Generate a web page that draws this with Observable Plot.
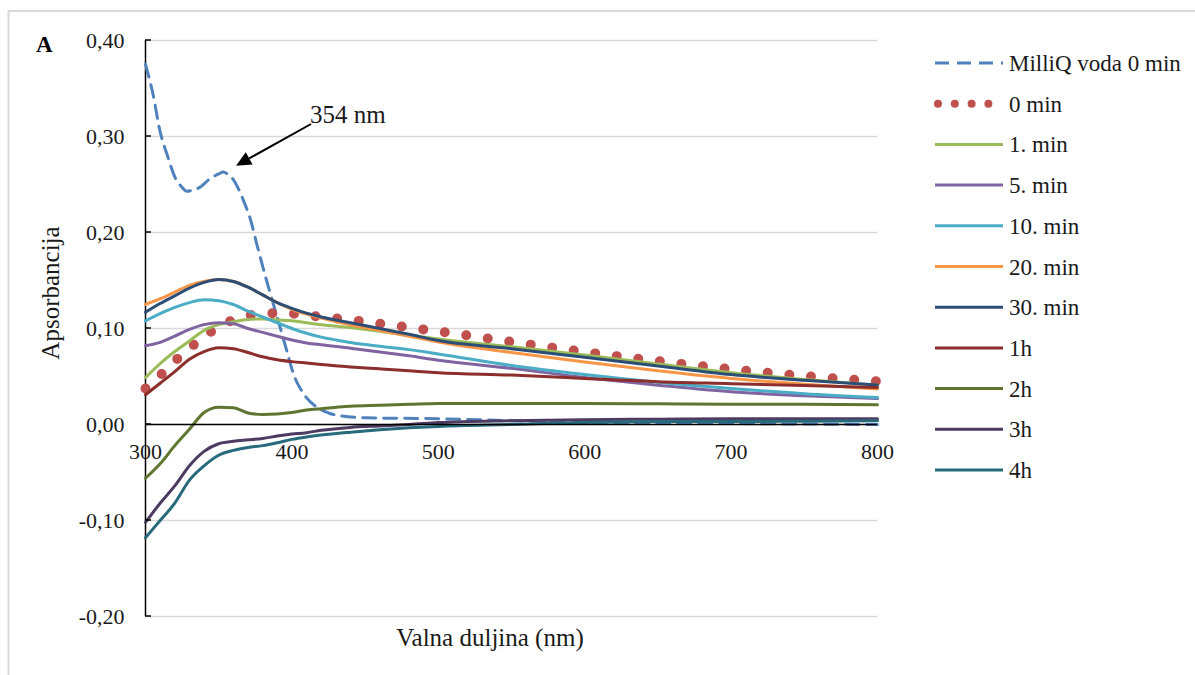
<!DOCTYPE html>
<html><head><meta charset="utf-8">
<script src="https://cdn.jsdelivr.net/npm/d3@7"></script>
<script src="https://cdn.jsdelivr.net/npm/@observablehq/plot@0.6"></script>
<style>
body{margin:0;background:#fff;}
#chart{position:relative;width:1195px;height:675px;}
</style></head><body><div id="chart"></div>
<script>
// ---- data ----
const wavelengths = [300,310,320,330,340,350,360,370,380,390,400,410,420,440,460,480,500,550,600,650,700,750,800];
const milliQWavelengths = [300,305,310,315,320,325,328,332,337,344,350,353,356,360,363,367,372,376,380,384,388,392,397,401,408,417,425,433,450,500,550,600,700,800];
const milliQ = [0.375,0.345,0.305,0.280,0.258,0.247,0.243,0.244,0.247,0.256,0.261,0.263,0.261,0.255,0.247,0.233,0.212,0.188,0.165,0.143,0.122,0.101,0.074,0.053,0.032,0.018,0.012,0.009,0.007,0.006,0.004,0.002,0.001,0.000];
const min0  = [0.0375,0.051,0.066,0.079,0.092,0.101,0.109,0.1135,0.1155,0.116,0.1156,0.114,0.112,0.109,0.105,0.101,0.097,0.086,0.0755,0.066,0.0575,0.0505,0.045];
const min1  = [0.049,0.0635,0.076,0.087,0.098,0.104,0.107,0.1095,0.110,0.109,0.108,0.106,0.104,0.101,0.097,0.093,0.089,0.081,0.0725,0.063,0.054,0.047,0.041];
const min5  = [0.082,0.0855,0.092,0.099,0.104,0.106,0.105,0.100,0.096,0.092,0.088,0.085,0.083,0.0795,0.0755,0.0715,0.067,0.0585,0.049,0.041,0.034,0.030,0.027];
const min10 = [0.108,0.1155,0.122,0.127,0.130,0.129,0.125,0.118,0.112,0.106,0.100,0.095,0.091,0.0855,0.0815,0.078,0.0735,0.0615,0.052,0.044,0.0375,0.032,0.028];
const min20 = [0.125,0.131,0.138,0.145,0.149,0.151,0.149,0.143,0.135,0.127,0.120,0.115,0.111,0.104,0.098,0.092,0.086,0.075,0.065,0.056,0.048,0.042,0.037];
const min30 = [0.117,0.126,0.134,0.142,0.148,0.151,0.149,0.143,0.135,0.127,0.121,0.116,0.112,0.106,0.100,0.094,0.0875,0.079,0.070,0.061,0.052,0.046,0.041];
const h1    = [0.031,0.043,0.055,0.068,0.076,0.080,0.079,0.075,0.0705,0.0675,0.0655,0.064,0.0625,0.060,0.058,0.056,0.054,0.0515,0.048,0.0445,0.0425,0.0405,0.0385];
const h2    = [-0.056,-0.041,-0.022,-0.005,0.0125,0.018,0.0175,0.012,0.0105,0.011,0.0125,0.015,0.0165,0.019,0.020,0.021,0.022,0.022,0.022,0.0215,0.021,0.021,0.0205];
const h3    = [-0.102,-0.082,-0.064,-0.043,-0.028,-0.020,-0.0175,-0.016,-0.0145,-0.012,-0.010,-0.0085,-0.006,-0.003,-0.0015,0.000,0.002,0.004,0.005,0.0055,0.006,0.006,0.006];
const h4    = [-0.118,-0.100,-0.082,-0.058,-0.043,-0.032,-0.027,-0.024,-0.022,-0.019,-0.0155,-0.013,-0.011,-0.008,-0.0055,-0.0035,-0.002,0.000,0.002,0.003,0.003,0.0035,0.004];

const seriesNames  = ["MilliQ voda 0 min","0 min","1. min","5. min","10. min","20. min","30. min","1h","2h","3h","4h"];
const seriesColors = ["#4F81BD","#C0504D","#9BBB59","#8064A2","#4BACC6","#F79646","#2C4D75","#8B2E2C","#5F7530","#4D3B62","#276A7C"];
const seriesValues = [milliQ,min0,min1,min5,min10,min20,min30,h1,h2,h3,h4];

const yTicks = [-0.2,-0.1,0,0.1,0.2,0.3,0.4];
const xTicks = [300,400,500,600,700,800];
const annotationText = "354 nm";
const annotationTail = [413.4, 0.3125];
const annotationTip  = [362.2, 0.269];
const xTitle = "Valna duljina (nm)";
const yTitle = "Apsorbancija";
const panelLabel = "A";

// ---- build tables ----
const tables = seriesValues.map((vals, i) => {
  const ws = i === 0 ? milliQWavelengths : wavelengths;
  return vals.map((a, j) => ({w: ws[j], a, s: seriesNames[i]}));
});

const font = "Liberation Serif, DejaVu Serif, serif";
const ink = "#1a1a1a";

const lineMarks = tables.map((t, i) => {
  if (i === 0) return Plot.line(t, {x: "w", y: "a", stroke: seriesColors[0], strokeWidth: 3, strokeDasharray: "13,8", curve: "monotone-x"});
  if (i === 1) return Plot.line(t, {x: "w", y: "a", stroke: seriesColors[1], strokeWidth: 10, strokeLinecap: "round", strokeDasharray: "0,21.7", curve: "monotone-x"});
  return Plot.line(t, {x: "w", y: "a", stroke: seriesColors[i], strokeWidth: 3, curve: "monotone-x"});
});

const chart = Plot.plot({
  width: 1195, height: 675,
  marginLeft: 145, marginRight: 318, marginTop: 40, marginBottom: 59,
  x: {domain: [300, 800], axis: null},
  y: {domain: [-0.2, 0.4], axis: null},
  style: {background: "white", overflow: "visible"},
  marks: [
    Plot.ruleY(yTicks, {stroke: "#d9d9d9", strokeWidth: 1.5}),
    Plot.axisY(yTicks, {tickSize: 0, tickPadding: 21, tickFormat: d => d.toFixed(2).replace(".", ","), fontSize: 22, label: null, fill: ink}),
    Plot.ruleX([300], {stroke: "black", strokeWidth: 1.5}),
    ...lineMarks,
    Plot.ruleY([0], {stroke: "black", strokeWidth: 1.5}),
    Plot.text(xTicks, {x: d => d, y: 0, dy: 27, text: d => String(d), fontSize: 22, fill: ink}),
    Plot.text([annotationText], {x: annotationTail[0] - 1, y: annotationTail[1], dy: -10, text: d => d, textAnchor: "start", fontSize: 25, fill: ink})
  ]
});

const svg = d3.select(chart);
const sx = chart.scale("x"), sy = chart.scale("y");

// y tick marks (inside)
yTicks.forEach(t => {
  svg.append("line").attr("x1", sx.apply(300)).attr("x2", sx.apply(300) + 6)
    .attr("y1", sy.apply(t)).attr("y2", sy.apply(t)).attr("stroke", "black").attr("stroke-width", 1.5);
});

// annotation arrow
{
  const x1 = sx.apply(annotationTail[0]), y1 = sy.apply(annotationTail[1]);
  const x2 = sx.apply(annotationTip[0]), y2 = sy.apply(annotationTip[1]);
  const dx = x2 - x1, dy = y2 - y1, len = Math.hypot(dx, dy);
  const ux = dx / len, uy = dy / len;
  const hl = 15, hw = 7;
  const bx = x2 - ux * hl, by = y2 - uy * hl;
  svg.append("line").attr("x1", x1).attr("y1", y1).attr("x2", bx).attr("y2", by)
    .attr("stroke", "black").attr("stroke-width", 2);
  svg.append("polygon").attr("points", [
    [x2, y2], [bx - uy * hw, by + ux * hw], [bx + uy * hw, by - ux * hw]
  ].map(p => p.join(",")).join(" ")).attr("fill", "black");
}

// outer frame (top + left)
svg.append("line").attr("x1", 8).attr("x2", 1195).attr("y1", 11).attr("y2", 11).attr("stroke", "#d9d9d9").attr("stroke-width", 2);
svg.append("line").attr("x1", 8.5).attr("x2", 8.5).attr("y1", 10).attr("y2", 675).attr("stroke", "#d9d9d9").attr("stroke-width", 2);

// titles
svg.append("text").text(xTitle).attr("x", 490).attr("y", 637).attr("dy", "0.35em")
  .attr("text-anchor", "middle").attr("font-size", 25).attr("fill", ink);
svg.append("text").text(yTitle).attr("transform", "translate(50,293) rotate(-90)").attr("dy", "0.35em")
  .attr("text-anchor", "middle").attr("font-size", 25).attr("fill", ink);
svg.append("text").text(panelLabel).attr("x", 36).attr("y", 52).attr("text-anchor", "start")
  .attr("font-size", 23).attr("font-weight", "bold").attr("fill", "black");

// legend
const lg = svg.append("g");
seriesNames.forEach((name, i) => {
  const cy = 63 + i * 40.7;
  const ln = lg.append("line").attr("x1", 935).attr("x2", 1003).attr("y1", cy).attr("y2", cy)
    .attr("stroke", seriesColors[i]);
  if (i === 0) ln.attr("stroke-width", 3).attr("stroke-dasharray", "14,8");
  else if (i === 1) ln.attr("x1", 938).attr("x2", 990).attr("stroke-width", 8).attr("stroke-linecap", "round").attr("stroke-dasharray", "0,16.8");
  else ln.attr("stroke-width", 3);
  lg.append("text").text(name).attr("x", 1009).attr("y", cy).attr("dy", "0.35em")
    .attr("text-anchor", "start").attr("font-size", 23).attr("fill", ink);
});

// force the serif family on every text element
svg.attr("font-family", font).style("font-family", font);
svg.selectAll("text").attr("font-family", font).style("font-family", font);

document.getElementById("chart").appendChild(chart);
</script>
</body></html>
